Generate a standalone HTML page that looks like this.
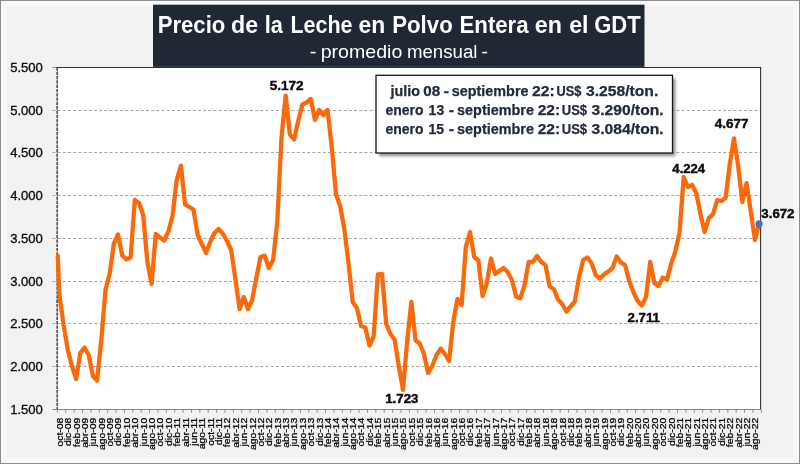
<!DOCTYPE html>
<html lang="es"><head><meta charset="utf-8"><title>Precio de la Leche en Polvo Entera en el GDT</title>
<style>html,body{margin:0;padding:0;background:#f2f2f2;}body{width:800px;height:464px;overflow:hidden;}svg{display:block;font-family:"Liberation Sans", sans-serif;}</style></head><body>
<svg width="800" height="464" viewBox="0 0 800 464">
<defs><clipPath id="pc"><rect x="57.4" y="64.4" width="709.6" height="348.1"/></clipPath>
<filter id="sh" x="-5%" y="-10%" width="115%" height="130%"><feGaussianBlur stdDeviation="1.6"/></filter></defs>
<rect x="0" y="0" width="800" height="464" fill="#f2f2f2"/>
<rect x="2.4" y="2.4" width="795.2" height="459.2" fill="none" stroke="#f7f7f7" stroke-width="9"/>
<rect x="1.75" y="1.75" width="796.5" height="460.5" fill="none" stroke="#ffffff" stroke-width="1.5"/>
<rect x="0.5" y="0.5" width="799" height="463" fill="none" stroke="#8c8c8c" stroke-width="1.1"/>
<rect x="57.4" y="67.4" width="703.6" height="342.1" fill="#ffffff"/>
<line x1="52.4" y1="110.50" x2="761.0" y2="110.50" stroke="#a6a6a6" stroke-width="1" stroke-dasharray="3,2.2"/>
<line x1="52.4" y1="152.50" x2="761.0" y2="152.50" stroke="#a6a6a6" stroke-width="1" stroke-dasharray="3,2.2"/>
<line x1="52.4" y1="195.50" x2="761.0" y2="195.50" stroke="#a6a6a6" stroke-width="1" stroke-dasharray="3,2.2"/>
<line x1="52.4" y1="238.50" x2="761.0" y2="238.50" stroke="#a6a6a6" stroke-width="1" stroke-dasharray="3,2.2"/>
<line x1="52.4" y1="281.50" x2="761.0" y2="281.50" stroke="#a6a6a6" stroke-width="1" stroke-dasharray="3,2.2"/>
<line x1="52.4" y1="323.50" x2="761.0" y2="323.50" stroke="#a6a6a6" stroke-width="1" stroke-dasharray="3,2.2"/>
<line x1="52.4" y1="366.50" x2="761.0" y2="366.50" stroke="#a6a6a6" stroke-width="1" stroke-dasharray="3,2.2"/>
<line x1="52.4" y1="67.50" x2="57.4" y2="67.50" stroke="#8f8f8f" stroke-width="1"/>
<line x1="57.2" y1="67.40" x2="57.2" y2="409.50" stroke="#4d4d4d" stroke-width="1.6" stroke-dasharray="3.3,1"/>
<line x1="56.6" y1="67.50" x2="761.2" y2="67.50" stroke="#303030" stroke-width="1.1"/>
<line x1="760.6" y1="67.40" x2="760.6" y2="410.00" stroke="#303030" stroke-width="1.1"/>
<line x1="52.4" y1="409.50" x2="761.0" y2="409.50" stroke="#868686" stroke-width="1.1"/>
<path d="M57.40,409.5V412.7M65.78,409.5V412.7M74.16,409.5V412.7M82.54,409.5V412.7M90.92,409.5V412.7M99.30,409.5V412.7M107.68,409.5V412.7M116.06,409.5V412.7M124.44,409.5V412.7M132.82,409.5V412.7M141.20,409.5V412.7M149.58,409.5V412.7M157.96,409.5V412.7M166.34,409.5V412.7M174.72,409.5V412.7M183.10,409.5V412.7M191.48,409.5V412.7M199.86,409.5V412.7M208.24,409.5V412.7M216.62,409.5V412.7M225.00,409.5V412.7M233.38,409.5V412.7M241.76,409.5V412.7M250.14,409.5V412.7M258.52,409.5V412.7M266.90,409.5V412.7M275.28,409.5V412.7M283.66,409.5V412.7M292.04,409.5V412.7M300.42,409.5V412.7M308.80,409.5V412.7M317.18,409.5V412.7M325.56,409.5V412.7M333.94,409.5V412.7M342.32,409.5V412.7M350.70,409.5V412.7M359.08,409.5V412.7M367.46,409.5V412.7M375.84,409.5V412.7M384.22,409.5V412.7M392.60,409.5V412.7M400.98,409.5V412.7M409.36,409.5V412.7M417.74,409.5V412.7M426.12,409.5V412.7M434.50,409.5V412.7M442.88,409.5V412.7M451.26,409.5V412.7M459.64,409.5V412.7M468.02,409.5V412.7M476.40,409.5V412.7M484.78,409.5V412.7M493.16,409.5V412.7M501.54,409.5V412.7M509.92,409.5V412.7M518.30,409.5V412.7M526.68,409.5V412.7M535.06,409.5V412.7M543.44,409.5V412.7M551.82,409.5V412.7M560.20,409.5V412.7M568.58,409.5V412.7M576.96,409.5V412.7M585.34,409.5V412.7M593.72,409.5V412.7M602.10,409.5V412.7M610.48,409.5V412.7M618.86,409.5V412.7M627.24,409.5V412.7M635.62,409.5V412.7M644.00,409.5V412.7M652.38,409.5V412.7M660.76,409.5V412.7M669.14,409.5V412.7M677.52,409.5V412.7M685.90,409.5V412.7M694.28,409.5V412.7M702.66,409.5V412.7M711.04,409.5V412.7M719.42,409.5V412.7M727.80,409.5V412.7M736.18,409.5V412.7M744.56,409.5V412.7M752.94,409.5V412.7M761.32,409.5V412.7" stroke="#8c8c8c" stroke-width="1" fill="none"/>
<g font-size="12.2" fill="#0c0c0c" stroke="#0c0c0c" stroke-width="0.3">
<text x="10.17" y="71.8" textLength="32.74" lengthAdjust="spacingAndGlyphs">5.500</text>
<text x="10.17" y="114.6" textLength="32.74" lengthAdjust="spacingAndGlyphs">5.000</text>
<text x="10.17" y="157.3" textLength="32.74" lengthAdjust="spacingAndGlyphs">4.500</text>
<text x="10.17" y="200.1" textLength="32.74" lengthAdjust="spacingAndGlyphs">4.000</text>
<text x="10.17" y="242.9" textLength="32.74" lengthAdjust="spacingAndGlyphs">3.500</text>
<text x="10.17" y="285.6" textLength="32.74" lengthAdjust="spacingAndGlyphs">3.000</text>
<text x="10.17" y="328.4" textLength="32.74" lengthAdjust="spacingAndGlyphs">2.500</text>
<text x="10.17" y="371.1" textLength="32.74" lengthAdjust="spacingAndGlyphs">2.000</text>
<text x="10.17" y="413.9" textLength="32.74" lengthAdjust="spacingAndGlyphs">1.500</text>
</g>
<g font-size="9.3" fill="#000" stroke="#000" stroke-width="0.25" text-anchor="end">
<text transform="translate(62.80,417.6) rotate(-90) scale(1.125,1)">oct-08</text>
<text transform="translate(71.18,417.6) rotate(-90) scale(1.125,1)">dic-08</text>
<text transform="translate(79.56,417.6) rotate(-90) scale(1.125,1)">feb-09</text>
<text transform="translate(87.94,417.6) rotate(-90) scale(1.125,1)">abr-09</text>
<text transform="translate(96.32,417.6) rotate(-90) scale(1.125,1)">jun-09</text>
<text transform="translate(104.70,417.6) rotate(-90) scale(1.125,1)">ago-09</text>
<text transform="translate(113.08,417.6) rotate(-90) scale(1.125,1)">oct-09</text>
<text transform="translate(121.46,417.6) rotate(-90) scale(1.125,1)">dic-09</text>
<text transform="translate(129.84,417.6) rotate(-90) scale(1.125,1)">feb-10</text>
<text transform="translate(138.22,417.6) rotate(-90) scale(1.125,1)">abr-10</text>
<text transform="translate(146.60,417.6) rotate(-90) scale(1.125,1)">jun-10</text>
<text transform="translate(154.98,417.6) rotate(-90) scale(1.125,1)">ago-10</text>
<text transform="translate(163.36,417.6) rotate(-90) scale(1.125,1)">oct-10</text>
<text transform="translate(171.74,417.6) rotate(-90) scale(1.125,1)">dic-10</text>
<text transform="translate(180.12,417.6) rotate(-90) scale(1.125,1)">feb-11</text>
<text transform="translate(188.50,417.6) rotate(-90) scale(1.125,1)">abr-11</text>
<text transform="translate(196.88,417.6) rotate(-90) scale(1.125,1)">jun-11</text>
<text transform="translate(205.26,417.6) rotate(-90) scale(1.125,1)">ago-11</text>
<text transform="translate(213.64,417.6) rotate(-90) scale(1.125,1)">oct-11</text>
<text transform="translate(222.02,417.6) rotate(-90) scale(1.125,1)">dic-11</text>
<text transform="translate(230.40,417.6) rotate(-90) scale(1.125,1)">feb-12</text>
<text transform="translate(238.78,417.6) rotate(-90) scale(1.125,1)">abr-12</text>
<text transform="translate(247.16,417.6) rotate(-90) scale(1.125,1)">jun-12</text>
<text transform="translate(255.54,417.6) rotate(-90) scale(1.125,1)">ago-12</text>
<text transform="translate(263.92,417.6) rotate(-90) scale(1.125,1)">oct-12</text>
<text transform="translate(272.30,417.6) rotate(-90) scale(1.125,1)">dic-12</text>
<text transform="translate(280.68,417.6) rotate(-90) scale(1.125,1)">feb-13</text>
<text transform="translate(289.06,417.6) rotate(-90) scale(1.125,1)">abr-13</text>
<text transform="translate(297.44,417.6) rotate(-90) scale(1.125,1)">jun-13</text>
<text transform="translate(305.82,417.6) rotate(-90) scale(1.125,1)">ago-13</text>
<text transform="translate(314.20,417.6) rotate(-90) scale(1.125,1)">oct-13</text>
<text transform="translate(322.58,417.6) rotate(-90) scale(1.125,1)">dic-13</text>
<text transform="translate(330.96,417.6) rotate(-90) scale(1.125,1)">feb-14</text>
<text transform="translate(339.34,417.6) rotate(-90) scale(1.125,1)">abr-14</text>
<text transform="translate(347.72,417.6) rotate(-90) scale(1.125,1)">jun-14</text>
<text transform="translate(356.10,417.6) rotate(-90) scale(1.125,1)">ago-14</text>
<text transform="translate(364.48,417.6) rotate(-90) scale(1.125,1)">oct-14</text>
<text transform="translate(372.86,417.6) rotate(-90) scale(1.125,1)">dic-14</text>
<text transform="translate(381.24,417.6) rotate(-90) scale(1.125,1)">feb-15</text>
<text transform="translate(389.62,417.6) rotate(-90) scale(1.125,1)">abr-15</text>
<text transform="translate(398.00,417.6) rotate(-90) scale(1.125,1)">jun-15</text>
<text transform="translate(406.38,417.6) rotate(-90) scale(1.125,1)">ago-15</text>
<text transform="translate(414.76,417.6) rotate(-90) scale(1.125,1)">oct-15</text>
<text transform="translate(423.14,417.6) rotate(-90) scale(1.125,1)">dic-15</text>
<text transform="translate(431.52,417.6) rotate(-90) scale(1.125,1)">feb-16</text>
<text transform="translate(439.90,417.6) rotate(-90) scale(1.125,1)">abr-16</text>
<text transform="translate(448.28,417.6) rotate(-90) scale(1.125,1)">jun-16</text>
<text transform="translate(456.66,417.6) rotate(-90) scale(1.125,1)">ago-16</text>
<text transform="translate(465.04,417.6) rotate(-90) scale(1.125,1)">oct-16</text>
<text transform="translate(473.42,417.6) rotate(-90) scale(1.125,1)">dic-16</text>
<text transform="translate(481.80,417.6) rotate(-90) scale(1.125,1)">feb-17</text>
<text transform="translate(490.18,417.6) rotate(-90) scale(1.125,1)">abr-17</text>
<text transform="translate(498.56,417.6) rotate(-90) scale(1.125,1)">jun-17</text>
<text transform="translate(506.94,417.6) rotate(-90) scale(1.125,1)">ago-17</text>
<text transform="translate(515.32,417.6) rotate(-90) scale(1.125,1)">oct-17</text>
<text transform="translate(523.70,417.6) rotate(-90) scale(1.125,1)">dic-17</text>
<text transform="translate(532.08,417.6) rotate(-90) scale(1.125,1)">feb-18</text>
<text transform="translate(540.46,417.6) rotate(-90) scale(1.125,1)">abr-18</text>
<text transform="translate(548.84,417.6) rotate(-90) scale(1.125,1)">jun-18</text>
<text transform="translate(557.22,417.6) rotate(-90) scale(1.125,1)">ago-18</text>
<text transform="translate(565.60,417.6) rotate(-90) scale(1.125,1)">oct-18</text>
<text transform="translate(573.98,417.6) rotate(-90) scale(1.125,1)">dic-18</text>
<text transform="translate(582.36,417.6) rotate(-90) scale(1.125,1)">feb-19</text>
<text transform="translate(590.74,417.6) rotate(-90) scale(1.125,1)">abr-19</text>
<text transform="translate(599.12,417.6) rotate(-90) scale(1.125,1)">jun-19</text>
<text transform="translate(607.50,417.6) rotate(-90) scale(1.125,1)">ago-19</text>
<text transform="translate(615.88,417.6) rotate(-90) scale(1.125,1)">oct-19</text>
<text transform="translate(624.26,417.6) rotate(-90) scale(1.125,1)">dic-19</text>
<text transform="translate(632.64,417.6) rotate(-90) scale(1.125,1)">feb-20</text>
<text transform="translate(641.02,417.6) rotate(-90) scale(1.125,1)">abr-20</text>
<text transform="translate(649.40,417.6) rotate(-90) scale(1.125,1)">jun-20</text>
<text transform="translate(657.78,417.6) rotate(-90) scale(1.125,1)">ago-20</text>
<text transform="translate(666.16,417.6) rotate(-90) scale(1.125,1)">oct-20</text>
<text transform="translate(674.54,417.6) rotate(-90) scale(1.125,1)">dic-20</text>
<text transform="translate(682.92,417.6) rotate(-90) scale(1.125,1)">feb-21</text>
<text transform="translate(691.30,417.6) rotate(-90) scale(1.125,1)">abr-21</text>
<text transform="translate(699.68,417.6) rotate(-90) scale(1.125,1)">jun-21</text>
<text transform="translate(708.06,417.6) rotate(-90) scale(1.125,1)">ago-21</text>
<text transform="translate(716.44,417.6) rotate(-90) scale(1.125,1)">oct-21</text>
<text transform="translate(724.82,417.6) rotate(-90) scale(1.125,1)">dic-21</text>
<text transform="translate(733.20,417.6) rotate(-90) scale(1.125,1)">feb-22</text>
<text transform="translate(741.58,417.6) rotate(-90) scale(1.125,1)">abr-22</text>
<text transform="translate(749.96,417.6) rotate(-90) scale(1.125,1)">jun-22</text>
<text transform="translate(758.34,417.6) rotate(-90) scale(1.125,1)">ago-22</text>
</g>
<path d="M57.80,256.00 L59.40,295.00 L63.59,325.00 L67.78,350.00 L71.97,366.00 L76.16,379.00 L80.35,353.00 L84.54,347.60 L88.73,355.00 L92.92,376.00 L97.11,380.60 L101.30,340.00 L105.49,290.00 L109.68,273.50 L113.87,243.75 L118.06,234.40 L122.25,255.60 L126.44,259.40 L130.63,257.25 L134.82,200.00 L139.01,203.00 L143.20,215.00 L147.39,262.00 L151.58,284.00 L155.77,234.00 L159.96,237.50 L164.15,240.60 L168.34,231.50 L172.53,216.00 L176.72,180.00 L180.91,165.60 L185.10,204.40 L189.29,207.00 L193.48,209.60 L197.67,235.00 L201.86,244.00 L206.05,253.00 L210.24,242.00 L214.43,233.00 L218.62,229.00 L222.81,233.60 L227.00,241.00 L231.19,250.00 L235.38,279.00 L239.57,309.00 L243.76,297.00 L247.95,309.00 L252.14,300.00 L256.33,278.00 L260.52,257.00 L264.71,255.60 L268.90,268.00 L273.09,260.00 L277.28,222.00 L281.47,138.00 L285.66,95.60 L289.85,134.40 L294.04,139.40 L298.23,121.00 L302.42,104.40 L306.61,102.50 L310.80,99.00 L314.99,120.00 L319.18,110.00 L323.37,115.00 L327.56,110.00 L331.75,147.00 L335.94,194.00 L340.13,206.00 L344.32,229.00 L348.51,263.00 L352.70,302.00 L356.89,308.00 L361.08,326.00 L365.27,327.60 L369.46,345.60 L373.65,336.50 L377.84,274.40 L382.03,274.00 L386.22,324.00 L390.41,334.00 L394.60,339.50 L398.79,366.00 L402.98,390.00 L407.17,341.00 L411.36,302.00 L415.55,340.30 L419.74,343.50 L423.93,354.00 L428.12,373.00 L432.31,366.00 L436.50,355.00 L440.69,348.60 L444.88,354.00 L449.07,361.00 L453.26,322.00 L457.45,299.00 L461.64,305.00 L465.83,247.00 L470.02,232.00 L474.21,257.00 L478.40,260.50 L482.59,296.00 L486.78,283.50 L490.97,258.50 L495.16,274.00 L499.35,271.00 L503.54,268.00 L507.73,272.00 L511.92,280.00 L516.11,296.40 L520.30,298.20 L524.49,285.50 L528.68,262.00 L532.87,262.00 L537.06,256.00 L541.25,262.00 L545.44,265.00 L549.63,286.50 L553.82,289.00 L558.01,299.50 L562.20,304.00 L566.39,311.50 L570.58,306.50 L574.77,301.50 L578.96,277.50 L583.15,260.00 L587.34,257.50 L591.53,263.00 L595.72,275.00 L599.91,278.50 L604.10,274.40 L608.29,271.60 L612.48,268.00 L616.67,256.40 L620.86,262.40 L625.05,265.00 L629.24,281.00 L633.43,292.00 L637.62,301.00 L641.81,305.50 L646.00,297.00 L650.19,262.00 L654.38,283.00 L658.57,286.00 L662.76,277.60 L666.95,279.60 L671.14,264.00 L675.33,251.50 L679.52,232.50 L683.71,177.00 L687.90,187.00 L692.09,185.00 L696.28,193.00 L700.47,214.00 L704.66,232.00 L708.85,218.00 L713.04,214.00 L717.23,200.00 L721.42,201.00 L725.61,198.00 L729.80,164.00 L733.99,138.30 L738.18,166.00 L742.37,202.00 L746.56,183.20 L750.75,211.00 L754.94,240.00 L759.13,223.80" fill="none" stroke="#f96a0c" stroke-width="4.3" stroke-linejoin="round" stroke-linecap="round"/>
<circle cx="759.1" cy="223.8" r="3.6" fill="#4472c4"/>
<g font-size="12.3" font-weight="bold" fill="#0a0a0a" stroke="#0a0a0a" stroke-width="0.4">
<text x="269.67" y="89.8" textLength="33.81" lengthAdjust="spacingAndGlyphs">5.172</text>
<text x="385.24" y="403.0" textLength="33.23" lengthAdjust="spacingAndGlyphs">1.723</text>
<text x="627.57" y="322.0" textLength="32.40" lengthAdjust="spacingAndGlyphs">2.711</text>
<text x="672.39" y="172.5" textLength="32.65" lengthAdjust="spacingAndGlyphs">4.224</text>
<text x="714.89" y="128.0" textLength="33.70" lengthAdjust="spacingAndGlyphs">4.677</text>
<text x="761.38" y="217.8" textLength="33.09" lengthAdjust="spacingAndGlyphs">3.672</text>
</g>
<rect x="153" y="4.7" width="491.5" height="62.2" fill="#202836"/>
<text y="32.5" font-size="24" font-weight="bold" fill="#ffffff"><tspan x="157.73" textLength="67.57" lengthAdjust="spacingAndGlyphs">Precio</tspan> <tspan x="231.06" textLength="27.14" lengthAdjust="spacingAndGlyphs">de</tspan> <tspan x="264.80" textLength="18.16" lengthAdjust="spacingAndGlyphs">la</tspan> <tspan x="290.47" textLength="62.10" lengthAdjust="spacingAndGlyphs">Leche</tspan> <tspan x="358.54" textLength="26.65" lengthAdjust="spacingAndGlyphs">en</tspan> <tspan x="392.27" textLength="60.42" lengthAdjust="spacingAndGlyphs">Polvo</tspan> <tspan x="459.52" textLength="69.09" lengthAdjust="spacingAndGlyphs">Entera</tspan> <tspan x="534.80" textLength="27.14" lengthAdjust="spacingAndGlyphs">en</tspan> <tspan x="569.13" textLength="19.39" lengthAdjust="spacingAndGlyphs">el</tspan> <tspan x="594.17" textLength="46.57" lengthAdjust="spacingAndGlyphs">GDT</tspan></text>
<text y="58" font-size="18" fill="#ffffff"><tspan x="309.75" textLength="6.75" lengthAdjust="spacingAndGlyphs">-</tspan> <tspan x="320.70" textLength="81.67" lengthAdjust="spacingAndGlyphs">promedio</tspan> <tspan x="406.96" textLength="70.53" lengthAdjust="spacingAndGlyphs">mensual</tspan> <tspan x="481.32" textLength="6.75" lengthAdjust="spacingAndGlyphs">-</tspan></text>
<rect x="379" y="78.5" width="296.5" height="77.7" fill="#000" opacity="0.42" filter="url(#sh)"/>
<rect x="376" y="75.3" width="296.5" height="77.7" fill="#ffffff" stroke="#161616" stroke-width="1.3"/>
<g font-size="14" font-weight="bold" fill="#222b3d" stroke="#222b3d" stroke-width="0.25">
<text y="95.6"><tspan x="390.56" textLength="29.30" lengthAdjust="spacingAndGlyphs">julio</tspan> <tspan x="423.21" textLength="16.97" lengthAdjust="spacingAndGlyphs">08</tspan> <tspan x="443.87" textLength="5.36" lengthAdjust="spacingAndGlyphs">-</tspan> <tspan x="451.84" textLength="76.66" lengthAdjust="spacingAndGlyphs">septiembre</tspan> <tspan x="532.05" textLength="22.66" lengthAdjust="spacingAndGlyphs">22:</tspan> <tspan x="556.52" textLength="24.90" lengthAdjust="spacingAndGlyphs">US$</tspan> <tspan x="585.91" textLength="72.38" lengthAdjust="spacingAndGlyphs">3.258/ton.</tspan></text>
<text y="115.0"><tspan x="385.50" textLength="38.05" lengthAdjust="spacingAndGlyphs">enero</tspan> <tspan x="428.60" textLength="15.64" lengthAdjust="spacingAndGlyphs">13</tspan> <tspan x="448.87" textLength="5.37" lengthAdjust="spacingAndGlyphs">-</tspan> <tspan x="457.09" textLength="76.81" lengthAdjust="spacingAndGlyphs">septiembre</tspan> <tspan x="537.66" textLength="22.50" lengthAdjust="spacingAndGlyphs">22:</tspan> <tspan x="561.76" textLength="25.32" lengthAdjust="spacingAndGlyphs">US$</tspan> <tspan x="591.57" textLength="72.03" lengthAdjust="spacingAndGlyphs">3.290/ton.</tspan></text>
<text y="134.4"><tspan x="385.50" textLength="38.05" lengthAdjust="spacingAndGlyphs">enero</tspan> <tspan x="428.60" textLength="15.53" lengthAdjust="spacingAndGlyphs">15</tspan> <tspan x="448.87" textLength="5.37" lengthAdjust="spacingAndGlyphs">-</tspan> <tspan x="457.09" textLength="76.81" lengthAdjust="spacingAndGlyphs">septiembre</tspan> <tspan x="537.66" textLength="22.50" lengthAdjust="spacingAndGlyphs">22:</tspan> <tspan x="561.76" textLength="25.32" lengthAdjust="spacingAndGlyphs">US$</tspan> <tspan x="591.57" textLength="72.03" lengthAdjust="spacingAndGlyphs">3.084/ton.</tspan></text>
</g>
</svg></body></html>
